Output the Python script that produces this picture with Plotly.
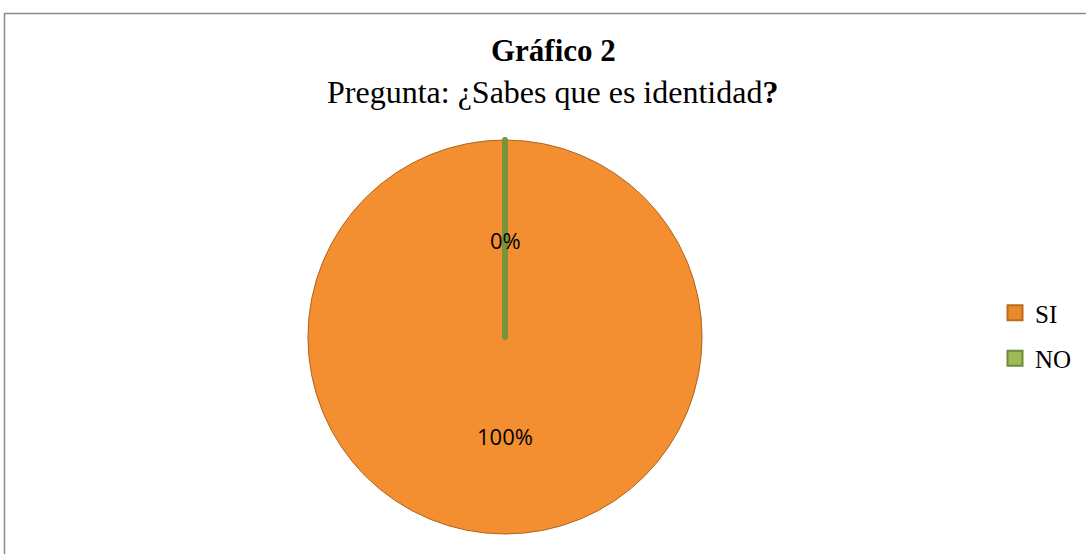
"""Pie chart: Gráfico 2 - Pregunta: ¿Sabes que es identidad?"""

import plotly.graph_objects as go

# Data
labels = ["SI", "NO"]
values = [100, 0]
slice_colors = ["#F38F30", "#7A9A44"]
edge_colors = ["#B0651E", "#77933C"]
edge_widths = [1, 6]
legend_fill = ["#E8892B", "#9BBB59"]
legend_edge = ["#C06A1C", "#6E8A3A"]

title_text = "Gráfico 2"
subtitle_text = "Pregunta: ¿Sabes que es identidad<b>?</b>"

W, H = 1086, 554
SERIF = "Liberation Serif, Times New Roman, serif"
SANS = "Open Sans, Liberation Sans, Arial, sans-serif"

# label positions (screen px) for the percentage text, one per slice
label_px = [(505, 436), (505, 240)]


def px(x):
    return x / W


def py(y):
    return 1 - y / H


fig = go.Figure()
fig.add_trace(go.Pie(
    labels=labels,
    values=values,
    sort=False,
    direction="clockwise",
    rotation=0,
    marker=dict(colors=slice_colors, line=dict(color=edge_colors, width=edge_widths)),
    textinfo="none",
    hoverinfo="label+percent",
    showlegend=False,
    domain=dict(x=[px(308), px(702)], y=[py(534), py(140)]),
))

# legend entries (one per slice, so the spacing can be set with tracegroupgap)
for lab, fc, ec in zip(labels, legend_fill, legend_edge):
    fig.add_trace(go.Scatter(
        x=[None], y=[None], mode="markers", name=lab, legendgroup=lab,
        marker=dict(symbol="square", size=15, color=fc, line=dict(color=ec, width=2)),
    ))

total = sum(values)
for v, (lx, ly) in zip(values, label_px):
    fig.add_annotation(
        x=px(lx), y=py(ly), xref="paper", yref="paper",
        xanchor="center", yanchor="middle",
        text=f"{round(100 * v / total)}%",
        showarrow=False,
        font=dict(family=SANS, size=22, color="#000000"),
    )

fig.add_annotation(
    x=px(553), y=py(51), xref="paper", yref="paper", yanchor="middle",
    text=f"<b>{title_text}</b>", showarrow=False,
    font=dict(family=SERIF, size=31, color="#000000"),
)
fig.add_annotation(
    x=px(552), y=py(92), xref="paper", yref="paper", yanchor="middle",
    text=subtitle_text, showarrow=False,
    font=dict(family=SERIF, size=32, color="#000000"),
)

fig.update_layout(
    width=W,
    height=H,
    margin=dict(l=0, r=0, t=0, b=0),
    paper_bgcolor="white",
    plot_bgcolor="white",
    xaxis=dict(visible=False),
    yaxis=dict(visible=False),
    showlegend=True,
    legend=dict(
        x=px(995), xanchor="left",
        y=py(290), yanchor="top",
        font=dict(family=SERIF, size=25, color="#000000"),
        bgcolor="rgba(0,0,0,0)",
        tracegroupgap=10,
    ),
    shapes=[dict(
        type="rect", xref="paper", yref="paper",
        x0=px(4.5), x1=1.02, y0=-0.02, y1=py(13.5),
        line=dict(color="#8C8C8C", width=1.5),
        fillcolor="rgba(0,0,0,0)",
        layer="below",
    )],
)

fig.write_html(
    "out.html",
    config={"displayModeBar": False},
    post_script="document.body.style.margin='0';",
)
